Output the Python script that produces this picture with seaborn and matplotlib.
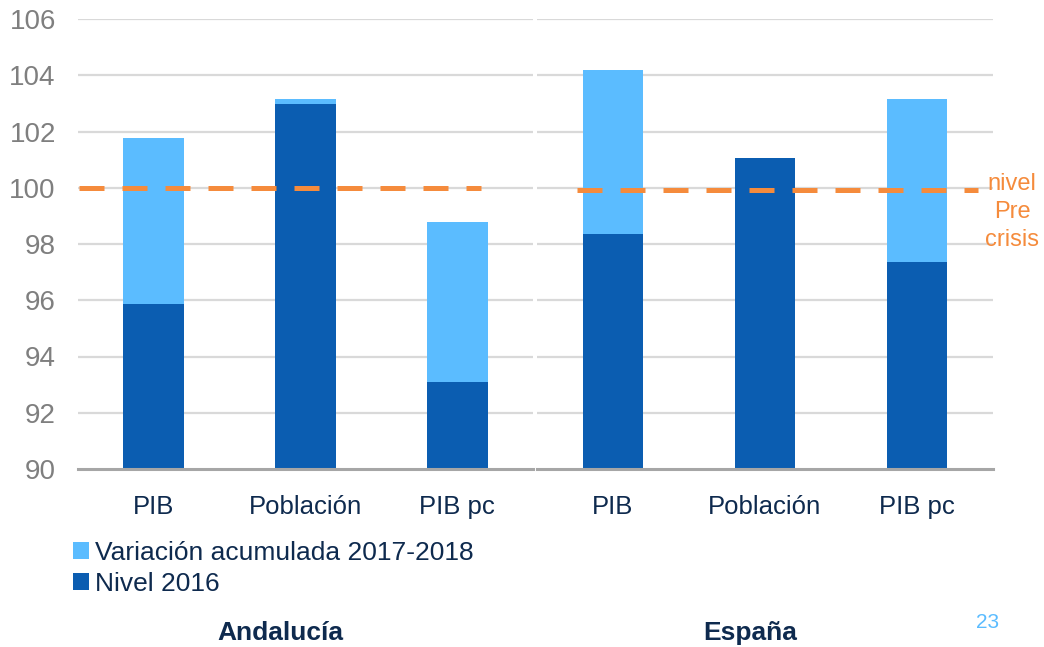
import pandas as pd
import seaborn as sns
import matplotlib.pyplot as plt
from matplotlib.patches import Patch

# data
regiones = ['Andalucía', 'España']
categorias = ['PIB', 'Población', 'PIB pc']
nivel_2016 = {'Andalucía': [95.87, 102.99, 93.09],
              'España': [98.36, 101.06, 97.36]}
total_2018 = {'Andalucía': [101.77, 103.16, 98.78],
              'España': [104.19, 101.06, 103.16]}
nivel_precrisis = {'Andalucía': 100.0, 'España': 99.92}
yticks = [90, 92, 94, 96, 98, 100, 102, 104, 106]

LIGHT = '#5BBCFF'
DARK = '#0B5DB1'
ORANGE = '#F58B3C'
NAVY = '#0E2A4E'
GRID = '#D9D9D9'
AXIS = '#A6A6A6'

sns.set_style('white')
plt.rcParams['font.family'] = ['Liberation Sans', 'DejaVu Sans']

fig = plt.figure(figsize=(10.44, 6.47), dpi=100)
W, H = 1044, 647
bottom = 1 - 469 / H
height = (469 - 19) / H
ax_left = fig.add_axes([78 / W, bottom, 455 / W, height])
ax_right = fig.add_axes([537 / W, bottom, 456 / W, height])

# dashed line extents (fraction of axes width)
dash_span = {'Andalucía': (0.002, 0.886), 'España': (0.088, 0.967)}

for ax, reg in zip([ax_left, ax_right], regiones):
    df = pd.DataFrame({'categoria': categorias,
                       'nivel': nivel_2016[reg],
                       'total': total_2018[reg]})
    sns.barplot(data=df, x='categoria', y='total', color=LIGHT, width=0.4,
                saturation=1, linewidth=0, ax=ax, zorder=2)
    sns.barplot(data=df, x='categoria', y='nivel', color=DARK, width=0.4,
                saturation=1, linewidth=0, ax=ax, zorder=3)
    ax.set_ylim(90, 106)
    ax.set_xlim(-0.5, 2.5)
    ax.set_yticks(yticks)
    for yv in yticks[1:]:
        ax.axhline(yv, color=GRID, lw=1.6, zorder=1)
    x0, x1 = dash_span[reg]
    ax.axhline(nivel_precrisis[reg], xmin=x0, xmax=x1, color=ORANGE, lw=3.6,
               dashes=(5, 3.6), zorder=4)
    ax.set_xlabel('')
    ax.set_ylabel('')
    for s in ['top', 'right', 'left']:
        ax.spines[s].set_visible(False)
    ax.spines['bottom'].set_color(AXIS)
    ax.spines['bottom'].set_linewidth(2.2)
    ax.spines['bottom'].set_zorder(5)
    # category labels between boundary ticks
    ax.set_xticks([-0.5, 0.5, 1.5, 2.5])
    ax.set_xticklabels([])
    ax.set_xticks([0, 1, 2], minor=True)
    ax.set_xticklabels(categorias, minor=True)
    ax.tick_params(axis='x', which='major', direction='out', length=7,
                   width=2.2, color=AXIS)
    ax.tick_params(axis='x', which='minor', length=0, pad=19,
                   labelsize=18.5, labelcolor=NAVY)
    ax.tick_params(axis='y', length=0, labelsize=20, labelcolor='#7F7F7F',
                   pad=16)
    ax.grid(False)

ax_right.set_yticklabels([])

handles = [Patch(facecolor=LIGHT, edgecolor='none'),
           Patch(facecolor=DARK, edgecolor='none')]
fig.legend(handles, ['Variación acumulada 2017-2018', 'Nivel 2016'],
           loc='upper left', bbox_to_anchor=(73 / W, 1 - 541 / H),
           frameon=False, fontsize=19, labelcolor=NAVY, borderpad=0,
           borderaxespad=0, handlelength=0.6, handleheight=0.6,
           handletextpad=0.25, labelspacing=0.25)

fig.text(280 / W, 1 - 633 / H, 'Andalucía', ha='center', va='center',
         fontsize=19, fontweight='bold', color=NAVY)
fig.text(750 / W, 1 - 633 / H, 'España', ha='center', va='center',
         fontsize=19, fontweight='bold', color=NAVY)
fig.text(988 / W, 1 - 622 / H, '23', ha='center', va='center',
         fontsize=15, color=LIGHT)
fig.text(1012 / W, 1 - 212 / H, 'nivel\nPre\ncrisis', ha='center',
         va='center', fontsize=17, color=ORANGE, linespacing=1.38)

fig.savefig('out.png', dpi=100)
